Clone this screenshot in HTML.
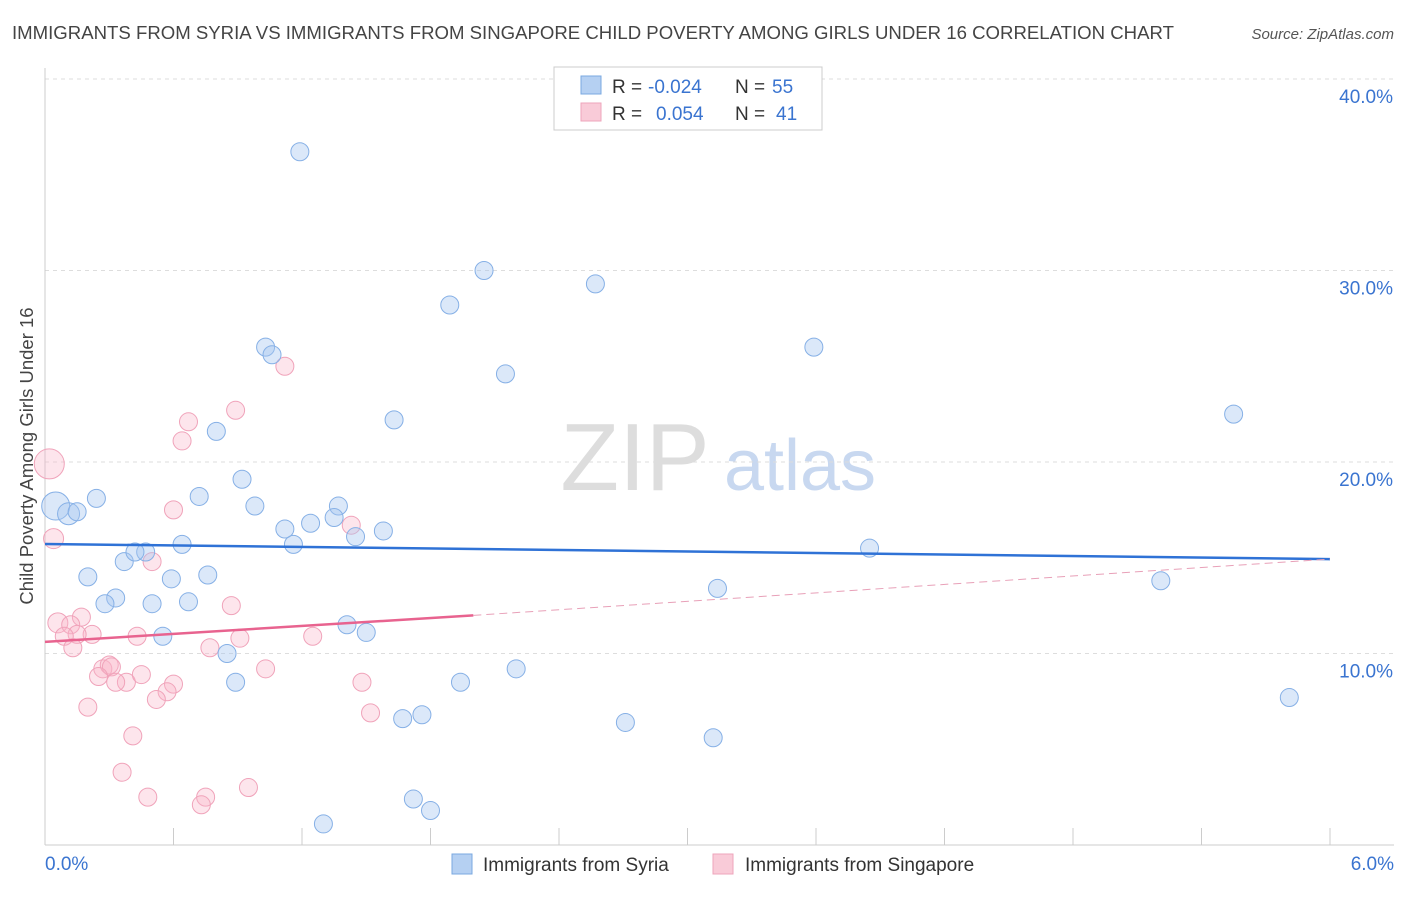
<!DOCTYPE html>
<html><head><meta charset="utf-8"><style>
body{margin:0;background:#fff;font-family:"Liberation Sans",sans-serif;}
svg text{font-family:"Liberation Sans",sans-serif;}
</style></head><body>
<svg id="chart" width="1406" height="892" viewBox="0 0 1406 892" xmlns="http://www.w3.org/2000/svg">
<text x="12" y="39" font-size="18.6" fill="#444">IMMIGRANTS FROM SYRIA VS IMMIGRANTS FROM SINGAPORE CHILD POVERTY AMONG GIRLS UNDER 16 CORRELATION CHART</text>
<text x="1394" y="39" font-size="15" fill="#555" text-anchor="end" font-style="italic">Source: ZipAtlas.com</text>
<text transform="translate(33,456) rotate(-90)" font-size="18.5" fill="#444" text-anchor="middle">Child Poverty Among Girls Under 16</text>
<g><text x="635" y="490" font-size="96" fill="#ddd" font-family="Liberation Serif,serif" text-anchor="middle">ZIP</text><text x="800" y="490" font-size="72" fill="#c8d8f0" text-anchor="middle">atlas</text></g>
<g id="grid"></g><g id="axes"></g><g id="pts"></g><g id="trend"></g>
<g>
<rect x="554" y="67" width="268" height="63" fill="#fff" stroke="#ccc"/>
<rect x="581" y="76" width="20" height="18" fill="#b5d0f2" stroke="#7aa8e0"/>
<rect x="581" y="103" width="20" height="18" fill="#f9cbd8" stroke="#eea5bb"/>
<text x="612" y="93" font-size="19" fill="#333">R =</text>
<text x="648" y="93" font-size="19" fill="#3a74d0">-0.024</text>
<text x="735" y="93" font-size="19" fill="#333">N =</text>
<text x="772" y="93" font-size="19" fill="#3a74d0">55</text>
<text x="612" y="120" font-size="19" fill="#333">R =</text>
<text x="656" y="120" font-size="19" fill="#3a74d0">0.054</text>
<text x="735" y="120" font-size="19" fill="#333">N =</text>
<text x="776" y="120" font-size="19" fill="#3a74d0">41</text>
</g>
<g>
<rect x="452" y="854" width="20" height="20" fill="#b5d0f2" stroke="#7aa8e0"/>
<text x="483" y="871" font-size="19" fill="#333">Immigrants from Syria</text>
<rect x="713" y="854" width="20" height="20" fill="#f9cbd8" stroke="#eea5bb"/>
<text x="745" y="871" font-size="19" fill="#333">Immigrants from Singapore</text>
</g>
</svg>
<script>
const NS="http://www.w3.org/2000/svg";
const yTicks=[10,20,30,40];
const xTickLabels=["0.0%","6.0%"];
const syriaX=[1.19,2.05,1.89,2.57,1.03,1.06,2.15,3.59,1.63,0.80,5.55,0.92,0.24,0.72,0.98,0.05,0.11,0.15,1.37,1.35,1.24,1.12,1.58,1.45,0.64,1.16,3.85,0.47,0.37,0.42,0.20,0.59,0.76,0.33,0.28,0.50,0.67,3.14,5.21,1.41,1.50,0.55,0.85,2.20,0.89,1.94,5.81,1.67,1.76,2.71,3.12,1.72,1.80,1.30];
const syriaY=[36.2,30.0,28.2,29.3,26.0,25.6,24.6,26.0,22.2,21.6,22.5,19.1,18.1,18.2,17.7,17.7,17.3,17.4,17.7,17.1,16.8,16.5,16.4,16.1,15.7,15.7,15.5,15.3,14.8,15.3,14.0,13.9,14.1,12.9,12.6,12.6,12.7,13.4,13.8,11.5,11.1,10.9,10.0,9.2,8.5,8.5,7.7,6.6,6.8,6.4,5.6,2.4,1.8,1.1];
const syriaR=[9,9,9,9,9,9,9,9,9,9,9,9,9,9,9,14,11,9,9,9,9,9,9,9,9,9,9,9,9,9,9,9,9,9,9,9,9,9,9,9,9,9,9,9,9,9,9,9,9,9,9,9,9,9];
const singX=[0.02,0.04,1.12,0.89,0.67,0.64,0.60,1.43,0.50,0.17,0.06,0.12,0.22,0.15,0.09,0.43,0.91,1.25,0.13,0.77,0.87,0.27,0.30,0.31,0.25,0.38,0.45,0.33,0.60,1.03,1.48,0.57,0.52,0.20,1.52,0.41,0.36,0.95,0.48,0.75,0.73];
const singY=[19.9,16.0,25.0,22.7,22.1,21.1,17.5,16.7,14.8,11.9,11.6,11.5,11.0,11.0,10.9,10.9,10.8,10.9,10.3,10.3,12.5,9.2,9.4,9.3,8.8,8.5,8.9,8.5,8.4,9.2,8.5,8.0,7.6,7.2,6.9,5.7,3.8,3.0,2.5,2.5,2.1];
const singR=[15,10,9,9,9,9,9,9,9,9,10,9,9,9,9,9,9,9,9,9,9,9,9,9,9,9,9,9,9,9,9,9,9,9,9,9,9,9,9,9,9];
const syriaTrend=[15.72,14.93];
const singTrend=[10.61,11.99,14.93];
const X=v=>45+v/6*1285, Y=v=>845-v*19.15;
function mk(tag,attrs,parent){const e=document.createElementNS(NS,tag);for(const k in attrs)e.setAttribute(k,attrs[k]);document.getElementById(parent).appendChild(e);return e;}
for(const t of yTicks){
 const l=mk('line',{x1:45,x2:1394,y1:Y(t),y2:Y(t),stroke:'#ddd','stroke-dasharray':'4,4'},'grid');
 
 
 const tx=mk('text',{x:1393,y:Y(t)+24,'font-size':19,fill:'#3a74d0','text-anchor':'end'},'grid');tx.textContent=t.toFixed(1)+'%';
 
 
}
mk('line',{x1:45,x2:45,y1:68,y2:845,stroke:'#ccc'},'axes');
mk('line',{x1:45,x2:1394,y1:845,y2:845,stroke:'#ccc'},'axes');
for(let i=0;i<=10;i++){const x=X(i*0.6);const tk=mk('line',{x1:x,x2:x,y1:828,y2:845,stroke:'#ccc'},'axes');
 
 }
const xl0=mk('text',{x:45,y:870,'font-size':19,fill:'#3a74d0'},'axes');xl0.textContent=xTickLabels[0];


const xl1=mk('text',{x:1394,y:870,'font-size':19,fill:'#3a74d0','text-anchor':'end'},'axes');xl1.textContent=xTickLabels[1];


singX.forEach((x,i)=>{const c=mk('circle',{cx:X(x),cy:Y(singY[i]),r:singR[i],fill:'rgba(248,180,200,0.35)',stroke:'#f0a3ba','stroke-width':1},'pts');
 
 });
syriaX.forEach((x,i)=>{const c=mk('circle',{cx:X(x),cy:Y(syriaY[i]),r:syriaR[i],fill:'rgba(165,198,240,0.4)',stroke:'#86b0e6','stroke-width':1},'pts');
 
 });
const t1=mk('line',{x1:X(0),x2:X(6),y1:Y(syriaTrend[0]),y2:Y(syriaTrend[1]),stroke:'#2f72d6','stroke-width':2.5},'trend');


const t2=mk('line',{x1:X(0),x2:X(2),y1:Y(singTrend[0]),y2:Y(singTrend[1]),stroke:'#e8638f','stroke-width':2.5},'trend');


const t3=mk('line',{x1:X(2),x2:X(6),y1:Y(singTrend[1]),y2:Y(singTrend[2]),stroke:'#e8a0b8','stroke-width':1,'stroke-dasharray':'8,5'},'trend');


</script>
</body></html>
